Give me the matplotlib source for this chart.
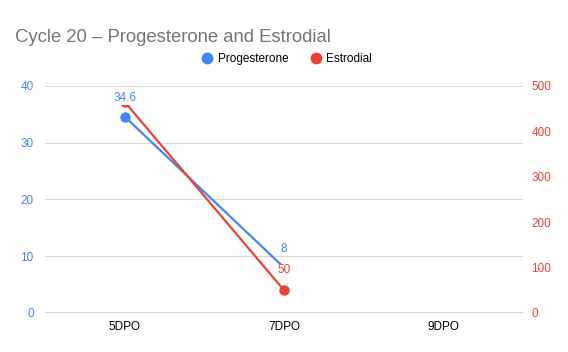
import matplotlib.pyplot as plt
import numpy as np

plt.rcParams['font.family'] = ['Liberation Sans', 'DejaVu Sans']

days = ['5DPO', '7DPO', '9DPO']
progesterone = [34.6, 8, np.nan]
estrodial = [465, 50, np.nan]
prog_labels = ['34.6', '8', '']
estr_labels = ['', '50', '']

blue = '#4285F4'
red = '#EA4335'

x = np.arange(len(days))

fig = plt.figure(figsize=(5.68, 3.52), dpi=100)
ax = fig.add_axes([0.079, 0.111, 0.842, 0.645])
ax2 = ax.twinx()

ax.plot(x, progesterone, color=blue, lw=1.6, marker='o', ms=6.5, markevery=[0], zorder=3)
ax2.plot(x, estrodial, color=red, lw=1.6, marker='o', ms=6.5, zorder=3)

# labels go on the top axes so they sit over both lines
for i, t in enumerate(prog_labels):
    if t:
        ax2.annotate(t, (x[i], progesterone[i]), xycoords=ax.transData,
                     xytext=(0, 9), textcoords='offset points',
                     ha='center', va='bottom', color=blue, fontsize=8.5,
                     bbox=dict(facecolor='white', edgecolor='none', pad=0.3), zorder=5)
for i, t in enumerate(estr_labels):
    if t:
        ax2.annotate(t, (x[i], estrodial[i]), xycoords=ax2.transData,
                     xytext=(0, 10), textcoords='offset points',
                     ha='center', va='bottom', color=red, fontsize=8.5,
                     bbox=dict(facecolor='white', edgecolor='none', pad=0.3), zorder=5)

ax.set_xlim(-0.5, 2.5)
ax.set_ylim(0, 40)
ax2.set_ylim(0, 500)
ax.set_yticks([0, 10, 20, 30, 40])
ax2.set_yticks([0, 100, 200, 300, 400, 500])
ax.set_xticks(x)
ax.set_xticklabels(days)

ax.grid(axis='y', color='#d9d9d9', lw=0.8)
ax.set_axisbelow(True)
for a in (ax, ax2):
    for s in ['top', 'left', 'right', 'bottom']:
        a.spines[s].set_visible(False)
ax.axhline(0, color='#333333', lw=1.0, zorder=2)

ax.tick_params(axis='y', length=0, labelcolor=blue, labelsize=8.5, pad=8)
ax2.tick_params(axis='y', length=0, labelcolor=red, labelsize=8.5, pad=6)
ax.tick_params(axis='x', length=0, labelsize=8.5, pad=6)

fig.text(0.026, 0.893, 'Cycle 20 \u2013 Progesterone and Estrodial', fontsize=13.3,
         color='#757575', ha='left', va='center')

h1 = plt.Line2D([], [], color=blue, marker='o', ls='none', ms=7.5)
h2 = plt.Line2D([], [], color=red, marker='o', ls='none', ms=7.5)
fig.legend([h1, h2], ['Progesterone', 'Estrodial'], loc='center', bbox_to_anchor=(0.505, 0.832),
           ncol=2, frameon=False, fontsize=8.5, handletextpad=0.4, columnspacing=1.8,
           handlelength=1.0)

fig.savefig('out.png', dpi=100)
